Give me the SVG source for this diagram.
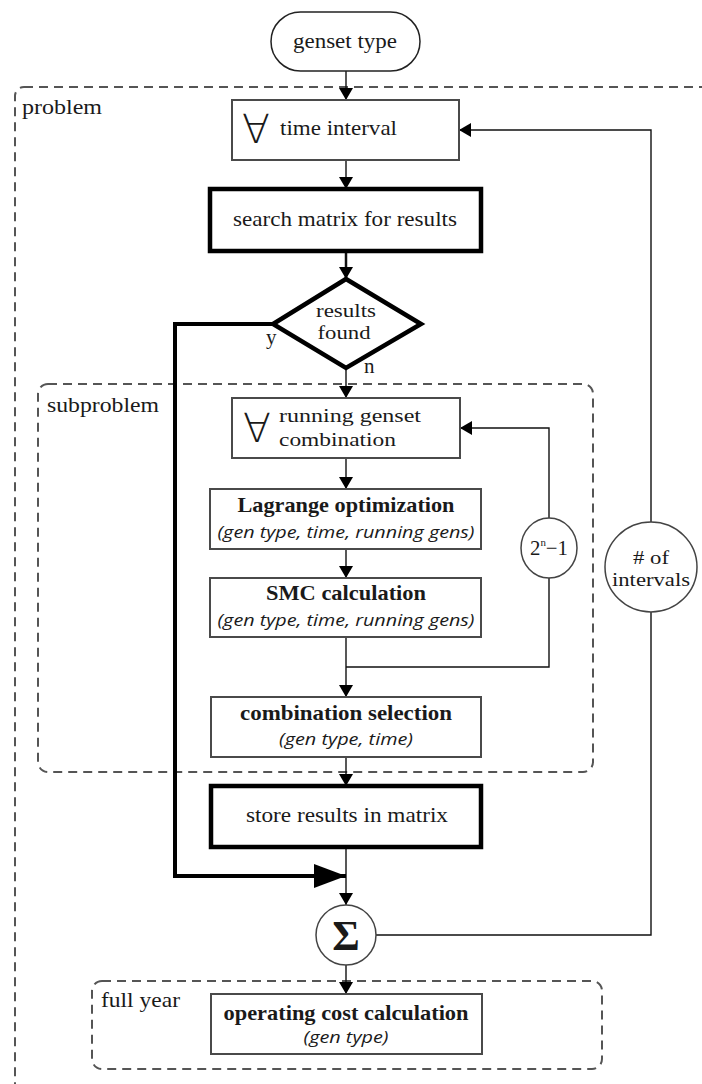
<svg xmlns="http://www.w3.org/2000/svg" width="702" height="1084" viewBox="0 0 702 1084">
<style>
.t{font-family:"Liberation Serif","DejaVu Serif",serif;font-size:21px;fill:#1a1a1a}
.s{font-size:19px}
.b{font-weight:bold}
.i{font-family:"Open Sans","Noto Sans","DejaVu Sans",sans-serif;font-style:italic;font-size:17px;fill:#1a1a1a}
.fa{font-family:"DejaVu Sans",sans-serif;font-size:40px;fill:#1a1a1a;font-weight:300}
.box{fill:#fff;stroke:#4a4a4a;stroke-width:2}
.thick{fill:#fff;stroke:#000;stroke-width:4.5}
.dash{fill:none;stroke:#555;stroke-width:2;stroke-dasharray:9 6}
.ln{fill:none;stroke:#111;stroke-width:1.4}
.lnb{fill:none;stroke:#000;stroke-width:4}
.circ{fill:#fff;stroke:#444;stroke-width:1.5}
</style>
<defs>
<marker id="ah" markerWidth="12" markerHeight="14" refX="12" refY="7" orient="auto" markerUnits="userSpaceOnUse">
<path d="M0,0 L12,7 L0,14 Z" fill="#000"/>
</marker>
<marker id="ahb" markerWidth="32" markerHeight="24" refX="32" refY="12" orient="auto" markerUnits="userSpaceOnUse">
<path d="M0,0 L32,12 L0,24 Z" fill="#000"/>
</marker>
</defs>

<g id="containers">
<rect id="problem" class="dash" x="15" y="87" width="740" height="1040" rx="9"/>
<text class="t" x="22" y="114" textLength="80" lengthAdjust="spacingAndGlyphs">problem</text>
<rect id="subproblem" class="dash" x="38" y="384" width="555" height="388" rx="10"/>
<text class="t" x="47" y="412" textLength="112" lengthAdjust="spacingAndGlyphs">subproblem</text>
<rect id="fullyear" class="dash" x="92" y="981" width="510" height="88" rx="10"/>
<text class="t" x="101" y="1007" textLength="79" lengthAdjust="spacingAndGlyphs">full year</text>
</g>

<g id="connectors">
<path class="ln" d="M346,71 V100" marker-end="url(#ah)"/>
<path class="ln" d="M346,160 V189" marker-end="url(#ah)"/>
<path class="ln" style="stroke-width:2.5" d="M346,251 V279" marker-end="url(#ah)"/>
<path class="ln" d="M346,368 V398" marker-end="url(#ah)"/>
<path class="ln" d="M346,458 V489" marker-end="url(#ah)"/>
<path class="ln" d="M346,549 V578" marker-end="url(#ah)"/>
<path class="ln" d="M346,637 V697" marker-end="url(#ah)"/>
<path class="ln" d="M346,667 H549 V428 H460" marker-end="url(#ah)"/>
<path class="ln" d="M346,757 V786" marker-end="url(#ah)"/>
<path class="ln" d="M346,847 V905" marker-end="url(#ah)"/>
<path class="lnb" d="M273,324 H175 V876 H346" marker-end="url(#ahb)"/>
<path class="ln" d="M376,935 H651 V130 H459" marker-end="url(#ah)"/>
<path class="ln" d="M346,965 V994" marker-end="url(#ah)"/>
</g>

<g id="genset">
<rect class="box" style="stroke:#222;stroke-width:1.5" x="271" y="12" width="149" height="59" rx="29.5"/>
<text class="t" x="345" y="48" text-anchor="middle" textLength="104" lengthAdjust="spacingAndGlyphs">genset type</text>
</g>

<g id="timeinterval">
<rect class="box" x="232" y="100" width="227" height="60"/>
<text class="fa" x="242" y="143" textLength="28" lengthAdjust="spacingAndGlyphs">∀</text>
<text class="t" x="280" y="135" textLength="117" lengthAdjust="spacingAndGlyphs">time interval</text>
</g>

<g id="search">
<rect class="thick" x="210" y="189" width="271" height="62"/>
<text class="t" x="233" y="226" textLength="224" lengthAdjust="spacingAndGlyphs">search matrix for results</text>
</g>

<g id="decision">
<path class="thick" d="M346,279 L421,324 L346,368 L273,324 Z" style="stroke-linejoin:miter"/>
<text class="t s" x="346" y="317" text-anchor="middle" textLength="60" lengthAdjust="spacingAndGlyphs">results</text>
<text class="t s" x="344" y="339" text-anchor="middle" textLength="53" lengthAdjust="spacingAndGlyphs">found</text>
<text class="t" x="266" y="344">y</text>
<text class="t" x="364" y="373">n</text>
</g>

<g id="running">
<rect class="box" x="232" y="398" width="228" height="60"/>
<text class="fa" x="243" y="442" textLength="28" lengthAdjust="spacingAndGlyphs">∀</text>
<text class="t s" x="279" y="422" textLength="142" lengthAdjust="spacingAndGlyphs">running genset</text>
<text class="t s" x="279" y="446" textLength="117" lengthAdjust="spacingAndGlyphs">combination</text>
</g>

<g id="lagrange">
<rect class="box" x="210" y="489" width="271" height="60"/>
<text class="t b" x="346" y="512" text-anchor="middle" textLength="217" lengthAdjust="spacingAndGlyphs">Lagrange optimization</text>
<text class="i" x="346" y="538" text-anchor="middle" textLength="257" lengthAdjust="spacingAndGlyphs">(gen type, time, running gens)</text>
</g>

<g id="smc">
<rect class="box" x="210" y="578" width="271" height="59"/>
<text class="t b" x="346" y="600" text-anchor="middle" textLength="160" lengthAdjust="spacingAndGlyphs">SMC calculation</text>
<text class="i" x="346" y="626" text-anchor="middle" textLength="257" lengthAdjust="spacingAndGlyphs">(gen type, time, running gens)</text>
</g>

<g id="loopcount">
<ellipse class="circ" cx="549" cy="548" rx="28" ry="30"/>
<text class="t" x="549" y="555" text-anchor="middle" textLength="38" lengthAdjust="spacingAndGlyphs">2<tspan style="font-size:11px" dy="-9">n</tspan><tspan dy="9">−1</tspan></text>
</g>

<g id="intervals">
<ellipse class="circ" cx="651" cy="567" rx="46" ry="45"/>
<text class="t s" x="651" y="564" text-anchor="middle" textLength="36" lengthAdjust="spacingAndGlyphs"># of</text>
<text class="t s" x="651" y="586" text-anchor="middle" textLength="78" lengthAdjust="spacingAndGlyphs">intervals</text>
</g>

<g id="combination">
<rect class="box" x="211" y="697" width="270" height="60"/>
<text class="t b" x="346" y="720" text-anchor="middle" textLength="212" lengthAdjust="spacingAndGlyphs">combination selection</text>
<text class="i" x="346" y="745" text-anchor="middle" textLength="134" lengthAdjust="spacingAndGlyphs">(gen type, time)</text>
</g>

<g id="store">
<rect class="thick" x="211" y="786" width="270" height="61"/>
<text class="t" x="347" y="822" text-anchor="middle" textLength="202" lengthAdjust="spacingAndGlyphs">store results in matrix</text>
</g>

<g id="sum">
<circle class="circ" cx="346" cy="935" r="30"/>
<text class="t b" x="346" y="950" text-anchor="middle" style="font-size:42px">Σ</text>
</g>

<g id="operating">
<rect class="box" x="211" y="994" width="271" height="60"/>
<text class="t b" x="346" y="1020" text-anchor="middle" textLength="245" lengthAdjust="spacingAndGlyphs">operating cost calculation</text>
<text class="i" x="346" y="1043" text-anchor="middle" textLength="85" lengthAdjust="spacingAndGlyphs">(gen type)</text>
</g>
</svg>
